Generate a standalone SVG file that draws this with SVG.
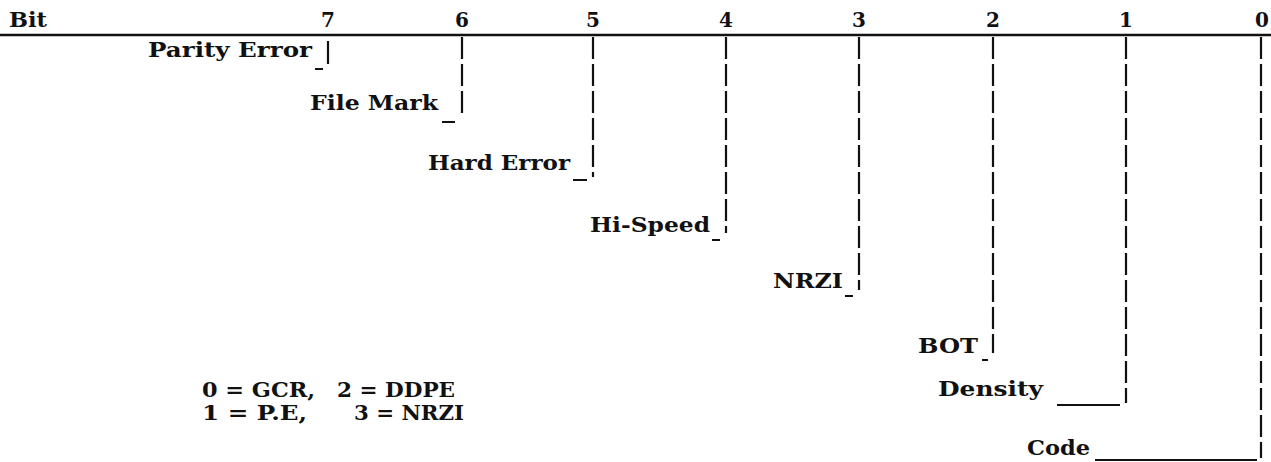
<svg xmlns="http://www.w3.org/2000/svg" width="1271" height="462" viewBox="0 0 1271 462">
<style>
text{font-family:"DejaVu Serif","Liberation Serif",serif;font-weight:bold;fill:#111;}
.lbl{font-size:20px;}
.num{font-size:20px;text-anchor:middle;}
.leg{font-size:20px;}
.v{stroke:#111;stroke-width:2.2;stroke-dasharray:22 5;fill:none;}
.u{stroke:#111;stroke-width:2;fill:none;}
</style>
<rect width="1271" height="462" fill="#fff"/>
<g id="header">
<line x1="0" y1="35" x2="1271" y2="35" stroke="#111" stroke-width="2.5"/>
<text class="lbl" x="9" y="27" textLength="38" lengthAdjust="spacingAndGlyphs">Bit</text>
<text class="num" x="328" y="27">7</text>
<text class="num" x="462" y="27">6</text>
<text class="num" x="593" y="27">5</text>
<text class="num" x="726" y="27">4</text>
<text class="num" x="859" y="27">3</text>
<text class="num" x="993" y="27">2</text>
<text class="num" x="1126" y="27">1</text>
<text class="num" x="1262" y="27">0</text>
</g>
<g id="connectors">
<line class="v" x1="328" y1="41" x2="328" y2="64" style="stroke-dasharray:none"/>
<line class="v" x1="462" y1="37" x2="462" y2="117"/>
<line class="v" x1="593" y1="37" x2="593" y2="177"/>
<line class="v" x1="726" y1="37" x2="726" y2="233"/>
<line class="v" x1="859" y1="37" x2="859" y2="290"/>
<line class="v" x1="993" y1="37" x2="993" y2="353"/>
<line class="v" x1="1126" y1="37" x2="1126" y2="403"/>
<line class="v" x1="1261" y1="37" x2="1261" y2="458"/>
<line class="u" x1="315" y1="69" x2="323" y2="69"/>
<line class="u" x1="442" y1="122" x2="455" y2="122"/>
<line class="u" x1="573" y1="180" x2="587" y2="180"/>
<line class="u" x1="712" y1="240" x2="720" y2="240"/>
<line class="u" x1="845" y1="296" x2="853" y2="296"/>
<line class="u" x1="982" y1="360" x2="988" y2="360"/>
<line class="u" x1="1057" y1="405" x2="1120" y2="405"/>
<line class="u" x1="1095" y1="460" x2="1257" y2="460"/>
</g>
<g id="bit7"><text class="lbl" x="148" y="57" textLength="164" lengthAdjust="spacingAndGlyphs">Parity Error</text></g>
<g id="bit6"><text class="lbl" x="310" y="110" textLength="128" lengthAdjust="spacingAndGlyphs">File Mark</text></g>
<g id="bit5"><text class="lbl" x="428" y="170" textLength="142" lengthAdjust="spacingAndGlyphs">Hard Error</text></g>
<g id="bit4"><text class="lbl" x="590" y="232" textLength="120" lengthAdjust="spacingAndGlyphs">Hi-Speed</text></g>
<g id="bit3"><text class="lbl" x="773" y="288" textLength="70" lengthAdjust="spacingAndGlyphs">NRZI</text></g>
<g id="bit2"><text class="lbl" x="918" y="353" textLength="60" lengthAdjust="spacingAndGlyphs">BOT</text></g>
<g id="bit1"><text class="lbl" x="938" y="396" textLength="105" lengthAdjust="spacingAndGlyphs">Density</text></g>
<g id="bit0"><text class="lbl" x="1027" y="455" textLength="63" lengthAdjust="spacingAndGlyphs">Code</text></g>
<g id="legend">
<text class="leg" x="202" y="397" textLength="113" lengthAdjust="spacingAndGlyphs">0 = GCR,</text>
<text class="leg" x="337" y="397" textLength="118" lengthAdjust="spacingAndGlyphs">2 = DDPE</text>
<text class="leg" x="202" y="420" textLength="105" lengthAdjust="spacingAndGlyphs">1 = P.E,</text>
<text class="leg" x="354" y="420" textLength="110" lengthAdjust="spacingAndGlyphs">3 = NRZI</text>
</g>
</svg>
